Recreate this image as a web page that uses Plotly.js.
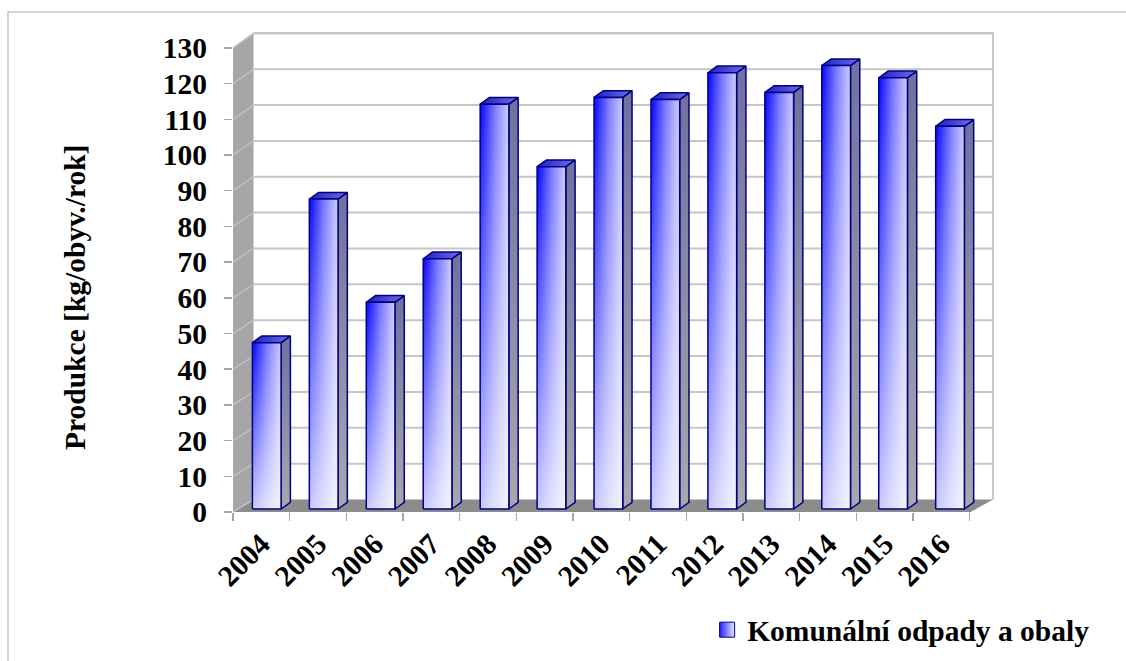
<!DOCTYPE html>
<html>
<head>
<meta charset="utf-8">
<script src="https://cdn.plot.ly/plotly-3.0.1.min.js"></script>
<style>html,body{margin:0;padding:0;background:#fff;}#chart{width:1126px;height:661px;}</style>
</head>
<body>
<div id="chart"></div>
<script>
// ---- data ----
const years = ['2004','2005','2006','2007','2008','2009','2010','2011','2012','2013','2014','2015','2016'];
const production = [46.6, 86.8, 57.9, 70.1, 113.4, 95.9, 115.3, 114.7, 122.2, 116.7, 124.2, 120.8, 107.2];
const yTickValues = [0,10,20,30,40,50,60,70,80,90,100,110,120,130];
const seriesName = 'Komunální odpady a obaly';
const yTitle = 'Produkce [kg/obyv./rok]';

// ---- geometry (pixel layout of the pseudo-3D box) ----
const W = 1126, H = 661;
const L = 233, R = 1000, T = 28, B = 512;
const slot = 56.67, unit = 3.57;
const px2x = p => -0.5 + (p - L) / slot;
const px2y = p => (B - p) / unit;
const backTop = 33.3, backBottom = 499.5, backLeft = 253.5, backRight = 993, frontRight = 970.7;
const backPx = v => backBottom - v * (backBottom - backTop) / 130;
const font = {family: 'Liberation Serif, Times New Roman, serif', size: 29.5, color: '#000', weight: 'bold'};

const shapes = [];
// outer border
shapes.push({type:'rect', xref:'paper', yref:'paper', layer:'below',
  x0:(8-L)/(R-L), x1:(1140-L)/(R-L), y0:(B-670)/(B-T), y1:(B-12)/(B-T),
  line:{color:'#c8c8c8', width:1.5}, fillcolor:'rgba(0,0,0,0)'});
// back wall frame
shapes.push({type:'path', xref:'x', yref:'y', layer:'below',
  path:`M${px2x(backLeft)},${px2y(backTop)} L${px2x(backRight)},${px2y(backTop)} L${px2x(backRight)},${px2y(backBottom)}`,
  line:{color:'#c8c8c8', width:2}});
// left wall
shapes.push({type:'path', xref:'x', yref:'y', layer:'below',
  path:`M${px2x(L)},${0} L${px2x(L)},${130} L${px2x(backLeft)},${px2y(backTop)} L${px2x(backLeft)},${px2y(backBottom)} Z`,
  fillcolor:'#a6a6a6', line:{width:0}});
// floor
shapes.push({type:'path', xref:'x', yref:'y', layer:'below',
  path:`M${px2x(L)},0 L${px2x(frontRight)},0 L${px2x(backRight)},${px2y(backBottom)} L${px2x(backLeft)},${px2y(backBottom)} Z`,
  fillcolor:'#8c8c8c', line:{width:0}});
// gridlines (back wall + left wall)
yTickValues.forEach(v => {
  const by = px2y(backPx(v));
  if (v > 0) shapes.push({type:'line', xref:'x', yref:'y', layer:'below',
    x0:px2x(backLeft), x1:px2x(backRight), y0:by, y1:by, line:{color:'#c6c6c6', width:2}});
  shapes.push({type:'line', xref:'x', yref:'y', layer:'below',
    x0:px2x(L), x1:px2x(backLeft), y0:v, y1:by, line:{color:'#c0c0c0', width:1.5}});
});

// ---- bars as pseudo-3D prisms built from the values ----
const frontW = 28.7 / slot, depthX = 9.3 / slot, depthY = 6.7 / unit, base = px2y(509);
const traces = [];
production.forEach((v, i) => {
  const xl = px2x(L + 19.4 + i * 56.94), xr = xl + frontW;
  const y0 = base, y1 = base + v;
  const common = {type:'scatter', mode:'lines', fill:'toself', hoverinfo:'skip', showlegend:false};
  // side
  traces.push(Object.assign({}, common, {
    x:[xr, xr + depthX, xr + depthX, xr, xr], y:[y0, y0 + depthY, y1 + depthY, y1, y0],
    line:{color:'#000080', width:1.5},
    fillgradient:{type:'vertical', colorscale:[[0,'rgb(168,168,172)'],[1,'rgb(112,112,160)']]}}));
  // top
  traces.push(Object.assign({}, common, {
    x:[xl, xl + depthX, xr + depthX, xr, xl], y:[y1, y1 + depthY, y1 + depthY, y1, y1],
    line:{color:'#000080', width:1.5},
    fillgradient:{type:'horizontal', colorscale:[[0,'rgb(30,30,200)'],[1,'rgb(110,110,225)']]}}));
  // front (horizontal gradient)
  traces.push(Object.assign({}, common, {
    x:[xl, xl, xr, xr, xl], y:[y0, y1, y1, y0, y0],
    line:{width:0},
    fillgradient:{type:'horizontal', colorscale:[[0,'rgb(5,5,255)'],[0.5,'rgb(120,120,255)'],[1,'rgb(205,205,255)']]}}));
  // front (vertical lightening + outline)
  traces.push(Object.assign({}, common, {
    x:[xl, xl, xr, xr, xl], y:[y0, y1, y1, y0, y0],
    text: years[i],
    line:{color:'#000080', width:1.5},
    fillgradient:{type:'vertical', colorscale:[[0,'rgba(255,255,255,0.78)'],[1,'rgba(255,255,255,0)']]}}));
});
// legend entry for the series
traces.push({type:'scatter', mode:'markers', x:[null], y:[null], name: seriesName, showlegend:true, hoverinfo:'skip',
  marker:{symbol:'square', size:15, color:'#2020ff', gradient:{type:'horizontal', color:'#e8e8ff'},
    line:{color:'#000080', width:1}}});
// carrier for the boundary tick marks
traces.push({type:'scatter', x:[null], y:[null], xaxis:'x2', yaxis:'y', mode:'markers', showlegend:false, hoverinfo:'skip'});

const layout = {
  width: W, height: H,
  margin: {l: L, r: W - R, t: T, b: H - B, autoexpand: false},
  paper_bgcolor: '#fff', plot_bgcolor: '#fff',
  showlegend: true,
  xaxis: {range: [-0.5, px2x(R)], tickvals: years.map((y, i) => i), ticktext: years,
    tickangle: -45, ticks: '', showgrid: false, zeroline: false, showline: false,
    tickfont: font, fixedrange: true, ticklabelstandoff: 8},
  xaxis2: {overlaying: 'x', side: 'bottom', range: [-0.5, px2x(R)],
    tickvals: years.map((y, i) => i - 0.5).concat([years.length - 0.5]),
    ticks: 'outside', ticklen: 8, tickwidth: 1.5, tickcolor: '#a6a6a6',
    showticklabels: false, showgrid: false, zeroline: false, showline: false, fixedrange: true},
  yaxis: {range: [0, px2y(T)], tickvals: yTickValues, ticks: 'outside', ticklen: 8,
    tickwidth: 1.5, tickcolor: '#a6a6a6', showgrid: false, zeroline: false, showline: false,
    tickfont: font, fixedrange: true, ticklabelstandoff: 11},
  legend: {xref: 'container', yref: 'container', x: 0.628, y: 1 - 630 / H, xanchor: 'left', yanchor: 'middle',
    font: font, bgcolor: 'rgba(0,0,0,0)', itemwidth: 30},
  annotations: [{text: yTitle, textangle: -90, xref: 'paper', yref: 'paper',
    x: (75 - L) / (R - L), y: (B - 298) / (B - T), xanchor: 'center', yanchor: 'middle',
    showarrow: false, font: font}],
  shapes: shapes
};
Plotly.newPlot('chart', traces, layout, {displayModeBar: false, staticPlot: true});
</script>
</body>
</html>
